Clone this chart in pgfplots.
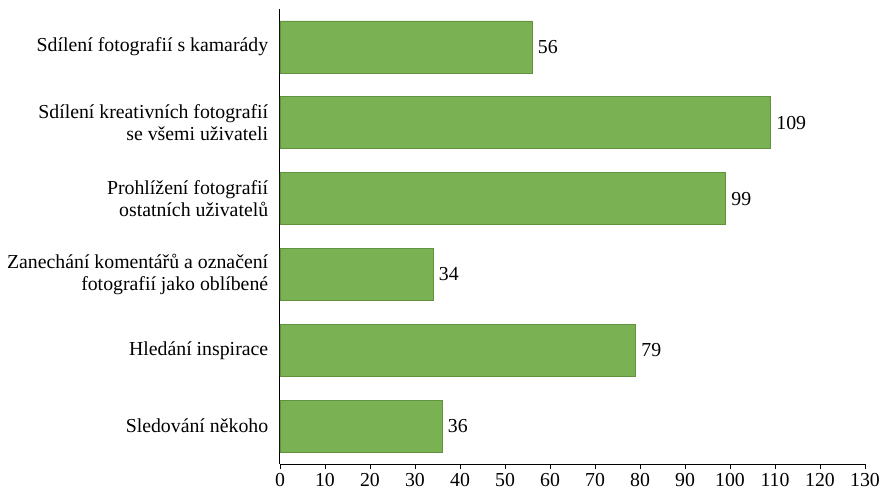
\documentclass[border=0pt]{standalone}
\usepackage{pgfplots}
\pgfplotsset{compat=1.18}
\usepackage{fontspec}
\setmainfont{Liberation Serif}
\definecolor{barg}{RGB}{122,177,83}
\definecolor{barb}{RGB}{98,145,64}
\begin{document}
\fontsize{19.8}{22.5}\selectfont
\begin{tikzpicture}
\begin{axis}[
  at={(0,0)}, anchor=south west,
  scale only axis, width=585pt, height=455pt,
  xbar, bar width=52pt,
  xmin=0, xmax=130, ymin=-0.5, ymax=5.5,
  y dir=reverse,
  axis x line*=bottom, axis y line*=left,
  axis line style={-, black, line width=1pt},
  xtick={0,10,...,130},
  ytick={0,1,2,3,4,5},
  yticklabels={Sdílení fotografií s kamarády,
    {Sdílení kreativních fotografií\\se všemi uživateli},
    {Prohlížení fotografií\\ostatních uživatelů},
    {Zanechání komentářů a označení\\fotografií jako oblíbené},
    Hledání inspirace,
    Sledování někoho},
  yticklabel style={align=right, font=\fontsize{19.8}{22.5}\selectfont},
  xticklabel style={font=\fontsize{19.8}{22.5}\selectfont, yshift=2pt},
  tick align=outside,
  x tick style={black, line width=0.8pt},
  major tick length=5pt,
  y tick style={draw=none},
  /pgf/number format/assume math mode=true,
  nodes near coords,
  nodes near coords style={anchor=west, font=\fontsize{19.8}{22.5}\selectfont, black, xshift=-1pt},
  clip=false,
]
\addplot[fill=barg, draw=barb, line width=0.6pt] coordinates {
  (56,0) (109,1) (99,2) (34,3) (79,4) (36,5)
};
\end{axis}
\pgfresetboundingbox
\path[use as bounding box] (-280pt,-27pt) rectangle (602pt,464pt);
\end{tikzpicture}
\end{document}
